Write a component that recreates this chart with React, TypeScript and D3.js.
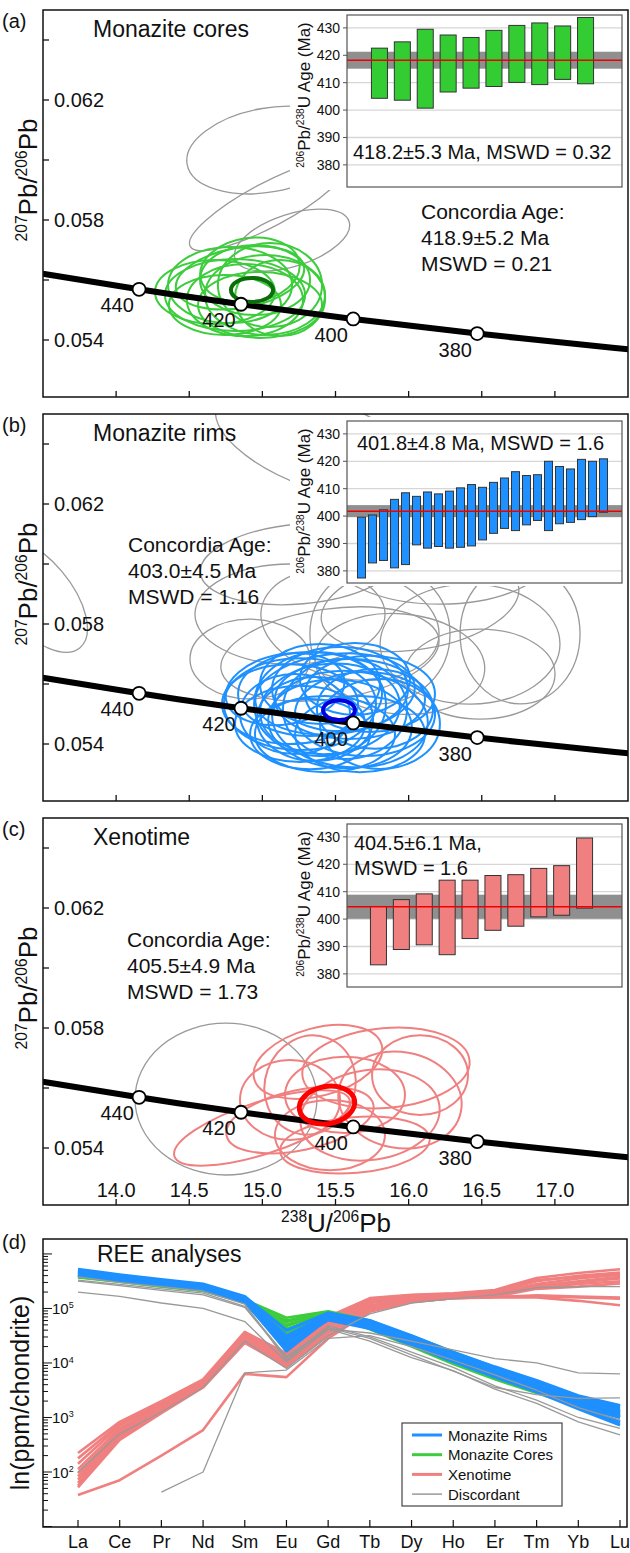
import React from 'react';
import * as d3 from 'd3';

const FONT = '"Liberation Sans", Arial, Helvetica, sans-serif';

// ---------- U-Pb concordia panels (a)-(c) ----------
const panelLetters = ['(a)', '(b)', '(c)'];
const panelTitles = ['Monazite cores', 'Monazite rims', 'Xenotime'];
const concordiaText = [
  ['Concordia Age:', '418.9±5.2 Ma', 'MSWD = 0.21'],
  ['Concordia Age:', '403.0±4.5 Ma', 'MSWD = 1.16'],
  ['Concordia Age:', '405.5±4.9 Ma', 'MSWD = 1.73'],
];
const xTicks = [14.0, 14.5, 15.0, 15.5, 16.0, 16.5, 17.0];
const yMajor = [0.054, 0.058, 0.062];
const yMinor = [0.056, 0.06, 0.064];

// Tera-Wasserburg concordia: [age Ma, 238U/206Pb, 207Pb/206Pb]
const concordiaCurve = [
  [470, 13.222, 0.056446],
  [460, 13.52, 0.056193],
  [440, 14.157, 0.05569],
  [420, 14.854, 0.055191],
  [400, 15.621, 0.054701],
  [380, 16.469, 0.054214],
  [360, 17.411, 0.053736],
  [350, 17.923, 0.053498],
];
const labelledAges = [440, 420, 400, 380];

// ellipses: [238U/206Pb, 207Pb/206Pb, err x, err y, tilt deg]
const coresEllipses = [
  [14.676, 0.0556, 0.41, 0.00107, 0],
  [14.779, 0.05583, 0.424, 0.00127, 0],
  [14.881, 0.05533, 0.397, 0.0012, 0],
  [14.95, 0.056, 0.376, 0.00117, 0],
  [15.018, 0.0555, 0.41, 0.00133, 0],
  [14.847, 0.05607, 0.444, 0.001, -10],
  [15.052, 0.05583, 0.356, 0.0014, 0],
  [14.744, 0.05517, 0.383, 0.001, 0],
  [14.984, 0.05517, 0.424, 0.0011, 0],
  [14.915, 0.05633, 0.342, 0.00107, -8],
  [15.121, 0.0554, 0.308, 0.00127, 0],
  [14.813, 0.0555, 0.479, 0.0012, 0],
];
const coresDiscordant = [
  [15.038, 0.06033, 0.561, 0.0014, -10],
  [15.038, 0.0585, 0.602, 0.00073, -28],
  [15.203, 0.05733, 0.41, 0.00087, -18],
];
const coresConcordia = [14.929, 0.05567, 0.144, 0.0004, 0];

const rimsEllipses = [
  [15.189, 0.05533, 0.465, 0.00133, 0],
  [15.326, 0.05567, 0.492, 0.0014, 0],
  [15.462, 0.05517, 0.479, 0.0015, -5],
  [15.599, 0.0555, 0.513, 0.00133, 0],
  [15.702, 0.055, 0.479, 0.0014, 0],
  [15.257, 0.05467, 0.444, 0.00127, 0],
  [15.394, 0.056, 0.41, 0.00133, 0],
  [15.531, 0.05467, 0.492, 0.00147, 5],
  [15.736, 0.05567, 0.444, 0.00127, 0],
  [15.155, 0.05583, 0.41, 0.00117, -10],
  [15.804, 0.05467, 0.41, 0.0015, 0],
  [15.428, 0.05433, 0.479, 0.00127, 0],
  [15.633, 0.05617, 0.376, 0.0012, 0],
  [15.257, 0.05533, 0.52, 0.00153, 0],
  [15.565, 0.05517, 0.424, 0.00167, 0],
  [15.36, 0.05483, 0.397, 0.0014, 0],
  [15.497, 0.05567, 0.547, 0.00133, -6],
  [15.668, 0.05433, 0.444, 0.00127, 0],
  [15.223, 0.055, 0.376, 0.00133, 0],
  [15.77, 0.05517, 0.397, 0.00133, 0],
  [15.394, 0.05533, 0.451, 0.00173, 0],
  [15.599, 0.05483, 0.533, 0.0016, 4],
  [15.326, 0.05433, 0.41, 0.00117, 0],
  [15.531, 0.05583, 0.465, 0.0014, 0],
];
const rimsDiscordant = [
  [15.394, 0.064, 0.752, 0.0015, 20],
  [15.257, 0.06, 0.684, 0.00133, -5],
  [15.189, 0.05833, 0.65, 0.00167, 0],
  [15.599, 0.058, 0.615, 0.00183, 10],
  [16.078, 0.05867, 0.684, 0.0015, -10],
  [16.42, 0.05733, 0.615, 0.002, 0],
  [15.941, 0.05667, 0.581, 0.00167, 5],
  [15.462, 0.057, 0.752, 0.0015, -8],
  [16.488, 0.05633, 0.513, 0.0015, 0],
  [14.915, 0.05683, 0.41, 0.00133, 0],
  [15.804, 0.05767, 0.479, 0.00233, 0],
  [13.445, 0.059, 0.479, 0.00117, 50],
  [16.215, 0.06033, 0.752, 0.00167, 0],
  [16.762, 0.05767, 0.41, 0.00233, 0],
];
const rimsConcordia = [15.524, 0.05513, 0.109, 0.00033, 0];

const xenoEllipses = [
  [15.845, 0.05667, 0.574, 0.00133, -5],
  [15.38, 0.05687, 0.451, 0.00113, -15],
  [14.997, 0.05467, 0.629, 0.00087, -18],
  [15.257, 0.05493, 0.513, 0.001, -12],
  [15.565, 0.05577, 0.41, 0.00127, 0],
  [15.736, 0.0551, 0.479, 0.0015, -8],
  [15.462, 0.05443, 0.376, 0.00117, 0],
  [15.941, 0.0556, 0.424, 0.0016, 10],
  [15.189, 0.0556, 0.342, 0.00133, 0],
  [15.633, 0.0541, 0.513, 0.00093, -5],
  [15.326, 0.0561, 0.308, 0.00167, 20],
  [16.078, 0.05643, 0.328, 0.00133, 0],
];
const xenoDiscordant = [[14.751, 0.05563, 0.622, 0.00253, 0]];
const xenoConcordia = [15.442, 0.05543, 0.191, 0.00062, -10];

// inset weighted-mean plots: [low, high] 206Pb/238U age (Ma)
const coresAges = [
  [404.3, 422.6], [403.6, 424.9], [400.7, 429.5], [406.6, 427.4], [408.0, 426.5],
  [408.6, 429.1], [410.1, 430.9], [409.3, 431.8], [411.2, 430.7], [409.6, 433.8],
];
const rimsAges = [
  [377.4, 399.6], [382.9, 400.4], [383.8, 402.3], [381.1, 406.1], [382.3, 408.5],
  [389.5, 407.2], [388.3, 408.8], [388.9, 408.1], [388.3, 409.1], [388.6, 410.3],
  [389.1, 411.5], [391.3, 410.5], [393.7, 412.3], [395.5, 413.9], [394.7, 416.2],
  [396.8, 414.8], [398.4, 415.1], [394.7, 420.0], [397.2, 418.1], [397.7, 417.2],
  [398.7, 420.7], [399.8, 420.0], [401.4, 420.9],
];
const xenoAges = [
  [383.3, 404.6], [388.9, 407.1], [390.6, 409.2], [387.0, 414.2], [392.9, 414.2],
  [395.9, 415.9], [397.4, 416.2], [400.8, 418.5], [401.4, 419.5], [404.0, 429.6],
];
const meanAges = [418.2, 401.8, 404.5];
const meanBands = [3.1, 2.2, 4.4];
const insetText = [
  ['418.2±5.3 Ma, MSWD = 0.32'],
  ['401.8±4.8 Ma, MSWD = 1.6'],
  ['404.5±6.1 Ma,', 'MSWD = 1.6'],
];
const insetTicks = [380, 390, 400, 410, 420, 430];

// ---------- REE panel (d), log10 of chondrite-normalised values ----------
const ree = ['La', 'Ce', 'Pr', 'Nd', 'Sm', 'Eu', 'Gd', 'Tb', 'Dy', 'Ho', 'Er', 'Tm', 'Yb', 'Lu'];
const rimsREE = [
  [5.72, 5.62, 5.53, 5.45, 5.22, 4.6, 4.92, 4.78, 4.5, 4.2, 3.93, 3.68, 3.4, 3.22],
  [5.7, 5.6, 5.51, 5.43, 5.2, 4.45, 4.9, 4.75, 4.47, 4.17, 3.9, 3.64, 3.36, 3.17],
  [5.68, 5.58, 5.5, 5.42, 5.19, 4.38, 4.88, 4.73, 4.44, 4.14, 3.87, 3.61, 3.32, 3.12],
  [5.66, 5.57, 5.48, 5.4, 5.17, 4.3, 4.86, 4.71, 4.42, 4.12, 3.85, 3.58, 3.29, 3.08],
  [5.65, 5.55, 5.47, 5.39, 5.16, 4.25, 4.84, 4.69, 4.4, 4.1, 3.82, 3.55, 3.26, 3.04],
  [5.63, 5.54, 5.45, 5.37, 5.14, 4.22, 4.82, 4.67, 4.37, 4.07, 3.79, 3.52, 3.22, 3.0],
  [5.62, 5.52, 5.44, 5.36, 5.13, 4.28, 4.8, 4.65, 4.35, 4.05, 3.77, 3.5, 3.19, 2.93],
  [5.6, 5.51, 5.42, 5.34, 5.11, 4.33, 4.79, 4.63, 4.33, 4.02, 3.74, 3.47, 3.16, 2.86],
  [5.67, 5.58, 5.49, 5.41, 5.18, 4.4, 4.87, 4.72, 4.46, 4.16, 3.9, 3.63, 3.36, 3.2],
  [5.64, 5.55, 5.46, 5.38, 5.15, 4.27, 4.83, 4.68, 4.39, 4.08, 3.8, 3.54, 3.24, 3.02],
  [5.61, 5.52, 5.43, 5.35, 5.12, 4.24, 4.81, 4.66, 4.36, 4.06, 3.78, 3.51, 3.21, 2.9],
  [5.69, 5.59, 5.5, 5.42, 5.19, 4.5, 4.89, 4.74, 4.45, 4.15, 3.88, 3.62, 3.33, 3.1],
];
const coresREE = [
  [5.62, 5.53, 5.45, 5.36, 5.16, 4.83, 4.95, 4.78, 4.48, 4.17, 3.89, 3.62, 3.32, 3.08],
  [5.6, 5.52, 5.44, 5.35, 5.15, 4.75, 4.93, 4.74, 4.44, 4.13, 3.85, 3.58, 3.28, 3.05],
  [5.61, 5.51, 5.43, 5.35, 5.14, 4.68, 4.92, 4.7, 4.4, 4.09, 3.8, 3.54, 3.24, 3.02],
  [5.59, 5.5, 5.42, 5.34, 5.13, 4.6, 4.9, 4.66, 4.36, 4.05, 3.76, 3.5, 3.21, 3.0],
  [5.63, 5.54, 5.46, 5.37, 5.17, 4.55, 4.89, 4.62, 4.3, 3.98, 3.7, 3.45, 3.2, 3.1],
  [5.58, 5.49, 5.41, 5.33, 5.12, 4.7, 4.91, 4.72, 4.46, 4.15, 3.87, 3.6, 3.3, 3.15],
  [5.6, 5.5, 5.42, 5.34, 5.13, 4.78, 4.94, 4.76, 4.5, 4.2, 3.92, 3.66, 3.38, 3.2],
  [5.57, 5.49, 5.4, 5.32, 5.11, 4.63, 4.88, 4.68, 4.38, 4.07, 3.78, 3.52, 3.26, 3.12],
];
const xenoREE = [
  [2.35, 2.92, 3.3, 3.7, 4.57, 4.18, 4.85, 5.19, 5.25, 5.28, 5.34, 5.56, 5.65, 5.72],
  [2.15, 2.85, 3.25, 3.66, 4.53, 4.12, 4.8, 5.15, 5.22, 5.26, 5.3, 5.5, 5.6, 5.66],
  [2.05, 2.8, 3.22, 3.64, 4.5, 4.1, 4.75, 5.12, 5.2, 5.25, 5.28, 5.45, 5.55, 5.62],
  [1.98, 2.76, 3.2, 3.62, 4.48, 4.06, 4.72, 5.1, 5.18, 5.23, 5.26, 5.42, 5.5, 5.58],
  [1.92, 2.72, 3.16, 3.6, 4.45, 4.02, 4.68, 5.06, 5.16, 5.22, 5.25, 5.4, 5.48, 5.55],
  [1.86, 2.7, 3.15, 3.59, 4.43, 4.0, 4.65, 5.04, 5.15, 5.21, 5.24, 5.38, 5.45, 5.5],
  [1.8, 2.66, 3.12, 3.57, 4.4, 3.98, 4.6, 5.02, 5.14, 5.2, 5.22, 5.36, 5.4, 5.46],
  [1.75, 2.62, 3.1, 3.56, 4.38, 3.95, 4.55, 5.0, 5.13, 5.19, 5.21, 5.22, 5.2, 5.18],
  [1.72, 2.59, 3.08, 3.55, 4.37, 3.93, 4.5, 4.96, 5.12, 5.19, 5.2, 5.2, 5.14, 5.06],
  [2.25, 2.88, 3.28, 3.68, 4.55, 4.15, 4.82, 5.17, 5.24, 5.27, 5.32, 5.52, 5.58, 5.64],
  [1.58, 1.85, 2.3, 2.77, 3.8, 3.74, 4.45, 4.94, 5.12, 5.19, 5.21, 5.24, 5.22, 5.2],
];
const discREE = [
  [5.3, 5.22, 5.1, 5.0, 4.76, 4.02, 4.62, 4.55, 4.4, 4.24, 4.08, 4.0, 3.82, 3.8],
  [null, null, 1.63, 2.0, 3.82, 3.87, 4.45, 4.5, 4.3, 4.05, 3.78, 3.5, 3.18, 2.95],
  [5.58, 5.48, 5.4, 5.32, 5.08, 4.05, 4.68, 4.48, 4.2, 3.92, 3.58, 3.32, 3.0, 2.8],
  [5.52, 5.44, 5.36, 5.28, 5.04, 4.12, 4.62, 4.4, 4.1, 3.86, 3.52, 3.26, 2.92, 2.68],
  [5.5, 5.42, 5.33, 5.25, 5.02, 4.1, 4.65, 4.45, 4.15, 3.85, 3.55, 3.42, 3.35, 3.36],
  [2.0, 2.7, 3.1, 3.55, 4.4, 3.9, 4.5, 4.9, 5.1, 5.18, 5.25, 5.38, 5.4, 5.4],
];
const legendItems = ['Monazite Rims', 'Monazite Cores', 'Xenotime', 'Discordant'];

const COL = {
  green: '#3ccc3c', greenBar: '#33cc33', darkGreen: '#0b6e0b',
  blue: '#1e90ff', darkBlue: '#0000dd',
  salmon: '#f08080', red: '#ff0000', gray: '#999999',
};

function Rich({ x, y, parts, size, rotate = 0, anchor = 'middle' }) {
  let shift = 0;
  const spans = parts.map(([t, sup], k) => {
    const target = sup ? -size * 0.38 : 0;
    const dy = target - shift;
    shift = target;
    return (
      <tspan key={k} fontSize={sup ? size * 0.6 : size} dy={dy}>{t}</tspan>
    );
  });
  return (
    <text transform={`translate(${x},${y}) rotate(${rotate})`} textAnchor={anchor}
      fontFamily={FONT} fontSize={size} fill="#111">{spans}</text>
  );
}

const panelOffsets = [0, 404, 808];
const insetTops = [15, 17, 16];
const insetHeights = [172, 162, 163];
const insetBarRanges = [[368, 597], [356, 609], [367, 596]];
const insetPadding = [0.3, 0.27, 0.3];

function ConcordiaPanel({ i }) {
  const off = panelOffsets[i];
  const top = 10 + off, bottom = 397 + off, left = 43, right = 628;
  const x = d3.scaleLinear().domain([13.5, 17.5]).range([left, right]);
  const y = d3.scaleLinear().domain([0.062, 0.054]).range([100 + off, 340 + off]);
  const sets = [
    [coresDiscordant, coresEllipses, coresConcordia, COL.green, COL.darkGreen, coresAges, COL.greenBar],
    [rimsDiscordant, rimsEllipses, rimsConcordia, COL.blue, COL.darkBlue, rimsAges, COL.blue],
    [xenoDiscordant, xenoEllipses, xenoConcordia, COL.salmon, COL.red, xenoAges, COL.salmon],
  ][i];
  const [disc, ells, conc, col, concCol, ages, barCol] = sets;

  const ell = (e, key, stroke, sw) => {
    const cx = x(e[0]), cy = y(e[1]);
    const rx = x(e[0] + e[2]) - cx, ry = y(e[1] - e[3]) - cy;
    return (
      <ellipse key={key} cx={cx} cy={cy} rx={rx} ry={ry}
        transform={`rotate(${e[4]} ${cx} ${cy})`} fill="none" stroke={stroke} strokeWidth={sw} />
    );
  };

  const curve = d3.line().x(d => x(d[1])).y(d => y(d[2])).curve(d3.curveNatural);
  const clipId = `clip-${i}`;

  // inset
  const it = off + insetTops[i], ih = insetHeights[i];
  const iy = d3.scaleLinear().domain([434.7 - ih / 2.74, 434.7]).range([it + ih, it]);
  const ix = d3.scaleBand().domain(ages.map((_, k) => k)).range(insetBarRanges[i])
    .paddingInner(insetPadding[i]).paddingOuter(insetPadding[i] / 2);
  const iL = 347, iR = 622;

  return (
    <g>
      <defs>
        <clipPath id={clipId}><rect x={left} y={top} width={right - left} height={bottom - top} /></clipPath>
      </defs>
      <g clipPath={`url(#${clipId})`}>
        {disc.map((e, k) => ell(e, 'd' + k, COL.gray, 1.3))}
        {ells.map((e, k) => ell(e, 'e' + k, col, 2))}
        <path d={curve(concordiaCurve)} fill="none" stroke="#000" strokeWidth={6} />
        {ell(conc, 'conc', concCol, i === 2 ? 5 : 4)}
        {labelledAges.map(a => {
          const p = concordiaCurve.find(d => d[0] === a);
          return (
            <g key={a}>
              <circle cx={x(p[1])} cy={y(p[2])} r={6.5} fill="#fff" stroke="#000" strokeWidth={1.8} />
              <text x={x(p[1]) - 22} y={y(p[2]) + 16} textAnchor="middle" dominantBaseline="central"
                fontFamily={FONT} fontSize={20} fill="#111">{a}</text>
            </g>
          );
        })}
      </g>

      {/* inset */}
      <rect x={290} y={it - 4} width={iR - 290 + 2} height={ih + 7} fill="#fff" />
      <rect x={iL} y={it} width={iR - iL} height={ih} fill="#fff" />
      {insetTicks.map(t => (
        <g key={t}>
          <line x1={iL} x2={iR} y1={iy(t)} y2={iy(t)} stroke="#d6d6d6" strokeWidth={1.3} />
          <line x1={iL - 4} x2={iL} y1={iy(t)} y2={iy(t)} stroke="#555" strokeWidth={1} />
          <text x={iL - 7} y={iy(t)} textAnchor="end" dominantBaseline="central"
            fontFamily={FONT} fontSize={14} fill="#111">{t}</text>
        </g>
      ))}
      <rect x={iL} y={iy(meanAges[i] + meanBands[i])} width={iR - iL}
        height={iy(meanAges[i] - meanBands[i]) - iy(meanAges[i] + meanBands[i])} fill="#8f8f8f" />
      {ages.map((a, k) => (
        <rect key={k} x={ix(k)} y={iy(a[1])} width={ix.bandwidth()} height={iy(a[0]) - iy(a[1])}
          fill={barCol} stroke="#333" strokeWidth={1} />
      ))}
      <line x1={iL} x2={iR} y1={iy(meanAges[i])} y2={iy(meanAges[i])} stroke="#ee0000" strokeWidth={1.5} />
      <rect x={iL} y={it} width={iR - iL} height={ih} fill="none" stroke="#555" strokeWidth={1.2} />
      {insetText[i].map((t, k) => {
        const pos = [[353, it + 144], [357, it + 29], [354, it + 26]][i];
        return (
          <text key={k} x={pos[0]} y={pos[1] + k * 25} fontFamily={FONT} fontSize={20} fill="#111">{t}</text>
        );
      })}
      <Rich x={310} y={it + 80} size={17} rotate={-90}
        parts={[['206', true], ['Pb/'], ['238', true], ['U Age (Ma)']]} />

      {/* frame and axes */}
      <rect x={left} y={top} width={right - left} height={bottom - top} fill="none" stroke="#111" strokeWidth={1.5} />
      {xTicks.map(t => (
        <line key={t} x1={x(t)} x2={x(t)} y1={bottom} y2={bottom - 6} stroke="#111" strokeWidth={1.3} />
      ))}
      {i === 2 && xTicks.map(t => (
        <text key={'l' + t} x={x(t)} y={bottom - 8} textAnchor="middle" fontFamily={FONT} fontSize={20} fill="#111">
          {t.toFixed(1)}
        </text>
      ))}
      {yMinor.map(t => (
        <line key={t} x1={left} x2={left + 6} y1={y(t)} y2={y(t)} stroke="#111" strokeWidth={1.3} />
      ))}
      {yMajor.map(t => (
        <g key={t}>
          <line x1={left} x2={left + 6} y1={y(t)} y2={y(t)} stroke="#111" strokeWidth={1.3} />
          <text x={left + 11} y={y(t)} dominantBaseline="central" fontFamily={FONT} fontSize={20} fill="#111">
            {t.toFixed(3)}
          </text>
        </g>
      ))}
      <Rich x={37} y={off + 180} size={26} rotate={-90}
        parts={[['207', true], ['Pb/'], ['206', true], ['Pb']]} />
      <text x={2} y={off + 28} fontFamily={FONT} fontSize={20} fill="#111">{panelLetters[i]}</text>
      <text x={93} y={off + 37} fontFamily={FONT} fontSize={23} fill="#111">{panelTitles[i]}</text>
      {concordiaText[i].map((t, k) => {
        const pos = [[421, 219], [128, 148], [127, 139]][i];
        return (
          <text key={k} x={pos[0]} y={off + pos[1] + k * 26} fontFamily={FONT} fontSize={21} fill="#111">{t}</text>
        );
      })}
    </g>
  );
}

function ReePanel() {
  const left = 43, right = 627, top = 1239, bottom = 1527;
  const x = d3.scalePoint().domain(ree).range([78, 620]);
  const y = d3.scaleLog().domain([9.8, 1.88e6]).range([bottom, top]);
  const line = d3.line()
    .defined(d => d[1] != null)
    .x(d => x(d[0]))
    .y(d => y(Math.pow(10, d[1])));
  const rows = vals => ree.map((el, k) => [el, vals[k]]);
  const groups = [
    [xenoREE, COL.salmon, 2.6],
    [coresREE, COL.green, 2.6],
    [rimsREE, COL.blue, 3],
    [discREE, COL.gray, 1.3],
  ];
  const ticks = [];
  for (let p = 1; p <= 6; p++) {
    for (let m = 1; m <= 9; m++) {
      const v = m * Math.pow(10, p);
      if (v >= 9.8 && v <= 1.88e6) ticks.push([v, m === 1, p]);
    }
  }
  const legendCols = [[COL.blue, 3], [COL.green, 3], [COL.salmon, 3], [COL.gray, 1.5]];
  return (
    <g>
      <defs>
        <clipPath id="clip-ree"><rect x={left} y={top} width={right - left} height={bottom - top} /></clipPath>
      </defs>
      <g clipPath="url(#clip-ree)">
        {groups.map(([set, c, w], g) => set.map((vals, k) => (
          <path key={g + '-' + k} d={line(rows(vals))} fill="none" stroke={c} strokeWidth={w}
            strokeLinejoin="round" />
        )))}
      </g>
      <rect x={left} y={top} width={right - left} height={bottom - top} fill="none" stroke="#111" strokeWidth={1.5} />
      {ticks.map(([v, major, p]) => (
        <g key={v}>
          <line x1={left} x2={left + (major ? 9 : 5)} y1={y(v)} y2={y(v)} stroke="#111" strokeWidth={1} />
          {major && p >= 2 && p <= 5 && (
            <Rich x={52} y={y(v) + 5.5} size={15} anchor="start" parts={[['10'], [String(p), true]]} />
          )}
        </g>
      ))}
      {ree.map(el => (
        <g key={el}>
          <line x1={x(el)} x2={x(el)} y1={bottom} y2={bottom - 7} stroke="#111" strokeWidth={1.2} />
          <text x={x(el)} y={bottom + 21} textAnchor="middle" fontFamily={FONT} fontSize={18} fill="#111">{el}</text>
        </g>
      ))}
      <text transform={`translate(29,1393) rotate(-90)`} textAnchor="middle" fontFamily={FONT} fontSize={25}
        fill="#111">ln(ppm/chondrite)</text>
      <text x={2} y={1249} fontFamily={FONT} fontSize={20} fill="#111">(d)</text>
      <text x={97} y={1262} fontFamily={FONT} fontSize={23} fill="#111">REE analyses</text>
      <rect x={402} y={1423} width={160} height={83} fill="#fff" stroke="#444" strokeWidth={1.2} />
      {legendItems.map((t, k) => (
        <g key={t}>
          <line x1={412} x2={442} y1={1435 + k * 19.7} y2={1435 + k * 19.7}
            stroke={legendCols[k][0]} strokeWidth={legendCols[k][1]} />
          <text x={448} y={1435 + k * 19.7} dominantBaseline="central" fontFamily={FONT} fontSize={15}
            fill="#111">{t}</text>
        </g>
      ))}
    </g>
  );
}

export default function App() {
  return (
    <svg width={630} height={1553} viewBox="0 0 630 1553"
      style={{ position: 'absolute', left: 0, top: 0, background: '#fff' }}>
      <rect x={0} y={0} width={630} height={1553} fill="#fff" />
      {[0, 1, 2].map(i => <ConcordiaPanel key={i} i={i} />)}
      <Rich x={336} y={1232} size={26} parts={[['238', true], ['U/'], ['206', true], ['Pb']]} />
      <ReePanel />
    </svg>
  );
}
